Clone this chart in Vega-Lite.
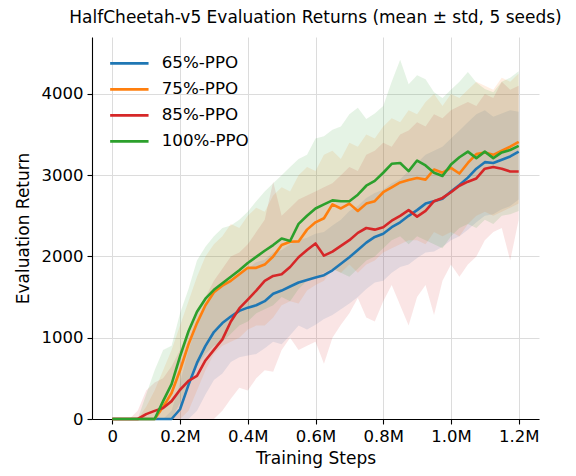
{
  "$schema": "https://vega.github.io/schema/vega-lite/v6.json",
  "width": 447,
  "height": 382,
  "autosize": {"type": "none"},
  "padding": {"left": 92, "top": 37, "right": 37, "bottom": 57},
  "background": "white",
  "config": {
    "view": {"stroke": null},
    "font": "DejaVu Sans",
    "axis": {"labelFont": "DejaVu Sans", "titleFont": "DejaVu Sans", "labelFontSize": 16.5, "titleFontSize": 17, "titleFontWeight": "normal", "labelColor": "#000", "titleColor": "#000", "domainColor": "#000", "tickColor": "#000", "domainWidth": 1.1, "tickWidth": 1.1, "tickSize": 5, "labelPadding": 4, "gridColor": "#dcdcdc", "gridWidth": 1}
  },
  "title": {"text": "HalfCheetah-v5 Evaluation Returns (mean ± std, 5 seeds)", "font": "DejaVu Sans", "fontSize": 17, "fontWeight": "normal", "color": "#000", "anchor": "middle", "frame": "group", "offset": 10},
  "datasets": {
    "runs": [
{"step":0,"method":"65%-PPO","mean":0,"lo":0,"hi":0},
{"step":25000,"method":"65%-PPO","mean":0,"lo":0,"hi":0},
{"step":50000,"method":"65%-PPO","mean":0,"lo":0,"hi":0},
{"step":75000,"method":"65%-PPO","mean":0,"lo":0,"hi":0},
{"step":100000,"method":"65%-PPO","mean":0,"lo":0,"hi":0},
{"step":125000,"method":"65%-PPO","mean":0,"lo":0,"hi":0},
{"step":150000,"method":"65%-PPO","mean":0,"lo":0,"hi":0},
{"step":175000,"method":"65%-PPO","mean":0,"lo":0,"hi":100},
{"step":200000,"method":"65%-PPO","mean":120,"lo":0,"hi":450},
{"step":225000,"method":"65%-PPO","mean":420,"lo":0,"hi":850},
{"step":250000,"method":"65%-PPO","mean":690,"lo":100,"hi":1150},
{"step":275000,"method":"65%-PPO","mean":900,"lo":300,"hi":1400},
{"step":300000,"method":"65%-PPO","mean":1070,"lo":480,"hi":1560},
{"step":325000,"method":"65%-PPO","mean":1180,"lo":560,"hi":1640},
{"step":350000,"method":"65%-PPO","mean":1260,"lo":700,"hi":1720},
{"step":375000,"method":"65%-PPO","mean":1330,"lo":760,"hi":1800},
{"step":400000,"method":"65%-PPO","mean":1370,"lo":780,"hi":1850},
{"step":425000,"method":"65%-PPO","mean":1400,"lo":800,"hi":1930},
{"step":450000,"method":"65%-PPO","mean":1450,"lo":870,"hi":1960},
{"step":475000,"method":"65%-PPO","mean":1540,"lo":950,"hi":2050},
{"step":500000,"method":"65%-PPO","mean":1580,"lo":920,"hi":2080},
{"step":525000,"method":"65%-PPO","mean":1630,"lo":1030,"hi":2150},
{"step":550000,"method":"65%-PPO","mean":1680,"lo":1150,"hi":2200},
{"step":575000,"method":"65%-PPO","mean":1710,"lo":1100,"hi":2230},
{"step":600000,"method":"65%-PPO","mean":1740,"lo":1160,"hi":2280},
{"step":625000,"method":"65%-PPO","mean":1770,"lo":1230,"hi":2300},
{"step":650000,"method":"65%-PPO","mean":1830,"lo":1280,"hi":2380},
{"step":675000,"method":"65%-PPO","mean":1910,"lo":1350,"hi":2450},
{"step":700000,"method":"65%-PPO","mean":1990,"lo":1420,"hi":2560},
{"step":725000,"method":"65%-PPO","mean":2080,"lo":1500,"hi":2620},
{"step":750000,"method":"65%-PPO","mean":2170,"lo":1600,"hi":2720},
{"step":775000,"method":"65%-PPO","mean":2240,"lo":1680,"hi":2780},
{"step":800000,"method":"65%-PPO","mean":2280,"lo":1700,"hi":2820},
{"step":825000,"method":"65%-PPO","mean":2360,"lo":1800,"hi":2900},
{"step":850000,"method":"65%-PPO","mean":2420,"lo":1870,"hi":2950},
{"step":875000,"method":"65%-PPO","mean":2500,"lo":1900,"hi":3050},
{"step":900000,"method":"65%-PPO","mean":2570,"lo":1980,"hi":3150},
{"step":925000,"method":"65%-PPO","mean":2650,"lo":2050,"hi":3250},
{"step":950000,"method":"65%-PPO","mean":2680,"lo":2060,"hi":3300},
{"step":975000,"method":"65%-PPO","mean":2710,"lo":2120,"hi":3350},
{"step":1000000,"method":"65%-PPO","mean":2800,"lo":2200,"hi":3450},
{"step":1025000,"method":"65%-PPO","mean":2880,"lo":2250,"hi":3550},
{"step":1050000,"method":"65%-PPO","mean":2970,"lo":2330,"hi":3650},
{"step":1075000,"method":"65%-PPO","mean":3080,"lo":2420,"hi":3750},
{"step":1100000,"method":"65%-PPO","mean":3160,"lo":2500,"hi":3800},
{"step":1125000,"method":"65%-PPO","mean":3150,"lo":2520,"hi":3720},
{"step":1150000,"method":"65%-PPO","mean":3190,"lo":2580,"hi":3760},
{"step":1175000,"method":"65%-PPO","mean":3230,"lo":2620,"hi":3800},
{"step":1200000,"method":"65%-PPO","mean":3290,"lo":2700,"hi":3780},
{"step":0,"method":"75%-PPO","mean":0,"lo":0,"hi":0},
{"step":25000,"method":"75%-PPO","mean":0,"lo":0,"hi":0},
{"step":50000,"method":"75%-PPO","mean":0,"lo":0,"hi":0},
{"step":75000,"method":"75%-PPO","mean":0,"lo":0,"hi":0},
{"step":100000,"method":"75%-PPO","mean":0,"lo":0,"hi":150},
{"step":125000,"method":"75%-PPO","mean":0,"lo":0,"hi":350},
{"step":150000,"method":"75%-PPO","mean":150,"lo":0,"hi":600},
{"step":175000,"method":"75%-PPO","mean":320,"lo":0,"hi":850},
{"step":200000,"method":"75%-PPO","mean":600,"lo":0,"hi":1150},
{"step":225000,"method":"75%-PPO","mean":920,"lo":100,"hi":1450},
{"step":250000,"method":"75%-PPO","mean":1180,"lo":350,"hi":1750},
{"step":275000,"method":"75%-PPO","mean":1400,"lo":600,"hi":2000},
{"step":300000,"method":"75%-PPO","mean":1560,"lo":800,"hi":2150},
{"step":325000,"method":"75%-PPO","mean":1640,"lo":900,"hi":2250},
{"step":350000,"method":"75%-PPO","mean":1700,"lo":950,"hi":2400},
{"step":375000,"method":"75%-PPO","mean":1780,"lo":1000,"hi":2350},
{"step":400000,"method":"75%-PPO","mean":1860,"lo":1100,"hi":2500},
{"step":425000,"method":"75%-PPO","mean":1860,"lo":1150,"hi":2600},
{"step":450000,"method":"75%-PPO","mean":1900,"lo":1150,"hi":2550},
{"step":475000,"method":"75%-PPO","mean":2000,"lo":1250,"hi":2750},
{"step":500000,"method":"75%-PPO","mean":2140,"lo":1400,"hi":2850},
{"step":525000,"method":"75%-PPO","mean":2180,"lo":1450,"hi":2800},
{"step":550000,"method":"75%-PPO","mean":2185,"lo":1420,"hi":3000},
{"step":575000,"method":"75%-PPO","mean":2330,"lo":1580,"hi":3100},
{"step":600000,"method":"75%-PPO","mean":2420,"lo":1650,"hi":3050},
{"step":625000,"method":"75%-PPO","mean":2470,"lo":1700,"hi":3250},
{"step":650000,"method":"75%-PPO","mean":2640,"lo":1850,"hi":3300},
{"step":675000,"method":"75%-PPO","mean":2590,"lo":1800,"hi":3200},
{"step":700000,"method":"75%-PPO","mean":2650,"lo":1900,"hi":3400},
{"step":725000,"method":"75%-PPO","mean":2560,"lo":1800,"hi":3350},
{"step":750000,"method":"75%-PPO","mean":2650,"lo":1900,"hi":3500},
{"step":775000,"method":"75%-PPO","mean":2680,"lo":1950,"hi":3450},
{"step":800000,"method":"75%-PPO","mean":2790,"lo":2050,"hi":3600},
{"step":825000,"method":"75%-PPO","mean":2850,"lo":2100,"hi":3700},
{"step":850000,"method":"75%-PPO","mean":2910,"lo":2150,"hi":3650},
{"step":875000,"method":"75%-PPO","mean":2940,"lo":2200,"hi":3800},
{"step":900000,"method":"75%-PPO","mean":2965,"lo":2200,"hi":3750},
{"step":925000,"method":"75%-PPO","mean":2945,"lo":2150,"hi":3900},
{"step":950000,"method":"75%-PPO","mean":3070,"lo":2300,"hi":4000},
{"step":975000,"method":"75%-PPO","mean":3030,"lo":2250,"hi":3850},
{"step":1000000,"method":"75%-PPO","mean":3090,"lo":2300,"hi":4000},
{"step":1025000,"method":"75%-PPO","mean":3020,"lo":2250,"hi":3950},
{"step":1050000,"method":"75%-PPO","mean":3150,"lo":2400,"hi":4050},
{"step":1075000,"method":"75%-PPO","mean":3260,"lo":2500,"hi":4150},
{"step":1100000,"method":"75%-PPO","mean":3280,"lo":2550,"hi":4100},
{"step":1125000,"method":"75%-PPO","mean":3250,"lo":2500,"hi":4050},
{"step":1150000,"method":"75%-PPO","mean":3300,"lo":2550,"hi":4200},
{"step":1175000,"method":"75%-PPO","mean":3350,"lo":2600,"hi":4150},
{"step":1200000,"method":"75%-PPO","mean":3410,"lo":2650,"hi":4250},
{"step":0,"method":"85%-PPO","mean":0,"lo":0,"hi":0},
{"step":25000,"method":"85%-PPO","mean":0,"lo":0,"hi":0},
{"step":50000,"method":"85%-PPO","mean":0,"lo":0,"hi":0},
{"step":75000,"method":"85%-PPO","mean":0,"lo":0,"hi":100},
{"step":100000,"method":"85%-PPO","mean":60,"lo":0,"hi":350},
{"step":125000,"method":"85%-PPO","mean":100,"lo":0,"hi":450},
{"step":150000,"method":"85%-PPO","mean":135,"lo":0,"hi":500},
{"step":175000,"method":"85%-PPO","mean":220,"lo":0,"hi":650},
{"step":200000,"method":"85%-PPO","mean":360,"lo":0,"hi":850},
{"step":225000,"method":"85%-PPO","mean":470,"lo":0,"hi":1100},
{"step":250000,"method":"85%-PPO","mean":530,"lo":0,"hi":1350},
{"step":275000,"method":"85%-PPO","mean":720,"lo":0,"hi":1500},
{"step":300000,"method":"85%-PPO","mean":850,"lo":0,"hi":1700},
{"step":325000,"method":"85%-PPO","mean":980,"lo":100,"hi":1850},
{"step":350000,"method":"85%-PPO","mean":1200,"lo":250,"hi":2000},
{"step":375000,"method":"85%-PPO","mean":1360,"lo":385,"hi":2050},
{"step":400000,"method":"85%-PPO","mean":1470,"lo":350,"hi":2150},
{"step":425000,"method":"85%-PPO","mean":1580,"lo":500,"hi":2300},
{"step":450000,"method":"85%-PPO","mean":1700,"lo":600,"hi":2450},
{"step":475000,"method":"85%-PPO","mean":1760,"lo":580,"hi":2920},
{"step":500000,"method":"85%-PPO","mean":1780,"lo":850,"hi":2500},
{"step":525000,"method":"85%-PPO","mean":1870,"lo":1000,"hi":2600},
{"step":550000,"method":"85%-PPO","mean":1990,"lo":850,"hi":2700},
{"step":575000,"method":"85%-PPO","mean":2080,"lo":900,"hi":2750},
{"step":600000,"method":"85%-PPO","mean":2160,"lo":950,"hi":2800},
{"step":625000,"method":"85%-PPO","mean":2010,"lo":680,"hi":2850},
{"step":650000,"method":"85%-PPO","mean":2060,"lo":1000,"hi":2900},
{"step":675000,"method":"85%-PPO","mean":2130,"lo":1160,"hi":3000},
{"step":700000,"method":"85%-PPO","mean":2200,"lo":1300,"hi":3100},
{"step":725000,"method":"85%-PPO","mean":2290,"lo":1490,"hi":3050},
{"step":750000,"method":"85%-PPO","mean":2350,"lo":1250,"hi":3250},
{"step":775000,"method":"85%-PPO","mean":2330,"lo":1200,"hi":3300},
{"step":800000,"method":"85%-PPO","mean":2360,"lo":1450,"hi":3400},
{"step":825000,"method":"85%-PPO","mean":2440,"lo":1650,"hi":3350},
{"step":850000,"method":"85%-PPO","mean":2500,"lo":1400,"hi":3500},
{"step":875000,"method":"85%-PPO","mean":2570,"lo":1150,"hi":3550},
{"step":900000,"method":"85%-PPO","mean":2490,"lo":1500,"hi":3650},
{"step":925000,"method":"85%-PPO","mean":2560,"lo":1650,"hi":3600},
{"step":950000,"method":"85%-PPO","mean":2680,"lo":1280,"hi":3750},
{"step":975000,"method":"85%-PPO","mean":2720,"lo":1700,"hi":3700},
{"step":1000000,"method":"85%-PPO","mean":2790,"lo":1900,"hi":3800},
{"step":1025000,"method":"85%-PPO","mean":2870,"lo":1750,"hi":3850},
{"step":1050000,"method":"85%-PPO","mean":2920,"lo":1900,"hi":3900},
{"step":1075000,"method":"85%-PPO","mean":2960,"lo":2000,"hi":3850},
{"step":1100000,"method":"85%-PPO","mean":3080,"lo":2200,"hi":4000},
{"step":1125000,"method":"85%-PPO","mean":3100,"lo":2300,"hi":3950},
{"step":1150000,"method":"85%-PPO","mean":3080,"lo":2350,"hi":4150},
{"step":1175000,"method":"85%-PPO","mean":3045,"lo":1950,"hi":4050},
{"step":1200000,"method":"85%-PPO","mean":3045,"lo":2450,"hi":4100},
{"step":0,"method":"100%-PPO","mean":0,"lo":0,"hi":0},
{"step":25000,"method":"100%-PPO","mean":0,"lo":0,"hi":0},
{"step":50000,"method":"100%-PPO","mean":0,"lo":0,"hi":0},
{"step":75000,"method":"100%-PPO","mean":0,"lo":0,"hi":0},
{"step":100000,"method":"100%-PPO","mean":0,"lo":0,"hi":300},
{"step":125000,"method":"100%-PPO","mean":0,"lo":0,"hi":600},
{"step":150000,"method":"100%-PPO","mean":220,"lo":0,"hi":850},
{"step":175000,"method":"100%-PPO","mean":430,"lo":0,"hi":900},
{"step":200000,"method":"100%-PPO","mean":770,"lo":200,"hi":1300},
{"step":225000,"method":"100%-PPO","mean":1080,"lo":450,"hi":1600},
{"step":250000,"method":"100%-PPO","mean":1320,"lo":650,"hi":1950},
{"step":275000,"method":"100%-PPO","mean":1480,"lo":800,"hi":2120},
{"step":300000,"method":"100%-PPO","mean":1590,"lo":900,"hi":2250},
{"step":325000,"method":"100%-PPO","mean":1670,"lo":950,"hi":2350},
{"step":350000,"method":"100%-PPO","mean":1750,"lo":1050,"hi":2380},
{"step":375000,"method":"100%-PPO","mean":1830,"lo":1150,"hi":2450},
{"step":400000,"method":"100%-PPO","mean":1920,"lo":1200,"hi":2550},
{"step":425000,"method":"100%-PPO","mean":1995,"lo":1300,"hi":2680},
{"step":450000,"method":"100%-PPO","mean":2070,"lo":1350,"hi":2800},
{"step":475000,"method":"100%-PPO","mean":2140,"lo":1400,"hi":2900},
{"step":500000,"method":"100%-PPO","mean":2220,"lo":1500,"hi":3000},
{"step":525000,"method":"100%-PPO","mean":2190,"lo":1450,"hi":3100},
{"step":550000,"method":"100%-PPO","mean":2400,"lo":1600,"hi":3200},
{"step":575000,"method":"100%-PPO","mean":2500,"lo":1700,"hi":3250},
{"step":600000,"method":"100%-PPO","mean":2590,"lo":1750,"hi":3450},
{"step":625000,"method":"100%-PPO","mean":2640,"lo":1800,"hi":3480},
{"step":650000,"method":"100%-PPO","mean":2690,"lo":1850,"hi":3560},
{"step":675000,"method":"100%-PPO","mean":2680,"lo":1800,"hi":3600},
{"step":700000,"method":"100%-PPO","mean":2680,"lo":1750,"hi":3750},
{"step":725000,"method":"100%-PPO","mean":2760,"lo":1850,"hi":3830},
{"step":750000,"method":"100%-PPO","mean":2870,"lo":1950,"hi":3690},
{"step":775000,"method":"100%-PPO","mean":2930,"lo":2000,"hi":3760},
{"step":800000,"method":"100%-PPO","mean":3030,"lo":2100,"hi":3850},
{"step":825000,"method":"100%-PPO","mean":3140,"lo":2200,"hi":4150},
{"step":850000,"method":"100%-PPO","mean":3150,"lo":2250,"hi":4420},
{"step":875000,"method":"100%-PPO","mean":3050,"lo":2150,"hi":4120},
{"step":900000,"method":"100%-PPO","mean":3180,"lo":2250,"hi":4230},
{"step":925000,"method":"100%-PPO","mean":3120,"lo":2200,"hi":4180},
{"step":950000,"method":"100%-PPO","mean":3030,"lo":2150,"hi":4020},
{"step":975000,"method":"100%-PPO","mean":2990,"lo":2100,"hi":3950},
{"step":1000000,"method":"100%-PPO","mean":3130,"lo":2250,"hi":4050},
{"step":1025000,"method":"100%-PPO","mean":3220,"lo":2350,"hi":4150},
{"step":1050000,"method":"100%-PPO","mean":3290,"lo":2400,"hi":4270},
{"step":1075000,"method":"100%-PPO","mean":3210,"lo":2350,"hi":4140},
{"step":1100000,"method":"100%-PPO","mean":3290,"lo":2450,"hi":4060},
{"step":1125000,"method":"100%-PPO","mean":3210,"lo":2400,"hi":4020},
{"step":1150000,"method":"100%-PPO","mean":3280,"lo":2500,"hi":4150},
{"step":1175000,"method":"100%-PPO","mean":3310,"lo":2520,"hi":4200},
{"step":1200000,"method":"100%-PPO","mean":3360,"lo":2560,"hi":4280}
    ]
  },
  "data": {"name": "runs"},
  "encoding": {
    "x": {"field": "step", "type": "quantitative", "scale": {"domain": [-60000, 1260000], "nice": false, "zero": false},
      "axis": {"title": "Training Steps", "values": [0, 200000, 400000, 600000, 800000, 1000000, 1200000], "labelExpr": "datum.value == 0 ? '0' : format(datum.value / 1000000, '.1f') + 'M'", "grid": true, "titlePadding": 6}},
    "color": {"field": "method", "type": "nominal", "scale": {"domain": ["65%-PPO", "75%-PPO", "85%-PPO", "100%-PPO"], "range": ["#1f77b4", "#ff7f0e", "#d62728", "#2ca02c"]},
      "legend": {"title": null, "orient": "top-left", "offset": 18, "symbolType": "M-3.2,0H3.2", "symbolSize": 144, "symbolStrokeWidth": 2.6, "symbolOpacity": 1, "symbolOffset": 11, "labelFont": "DejaVu Sans", "labelFontSize": 16.7, "labelColor": "#000", "labelOffset": 24, "rowPadding": 8, "padding": 0,
        "encode": {"symbols": {"update": {"stroke": {"scale": "color", "field": "value"}, "strokeOpacity": {"value": 1}, "opacity": {"value": 1}}}}}}
  },
  "layer": [
    {
      "mark": {"type": "area", "fillOpacity": 0.12, "stroke": null},
      "encoding": {
        "y": {"field": "lo", "type": "quantitative", "scale": {"domain": [0, 4700], "nice": false, "zero": false},
          "axis": {"title": "Evaluation Return", "values": [0, 1000, 2000, 3000, 4000], "format": "d", "grid": true, "titlePadding": 9}},
        "y2": {"field": "hi"}
      }
    },
    {
      "mark": {"type": "line", "strokeWidth": 2.6, "strokeJoin": "round"},
      "encoding": {
        "y": {"field": "mean", "type": "quantitative"}
      }
    }
  ]
}
